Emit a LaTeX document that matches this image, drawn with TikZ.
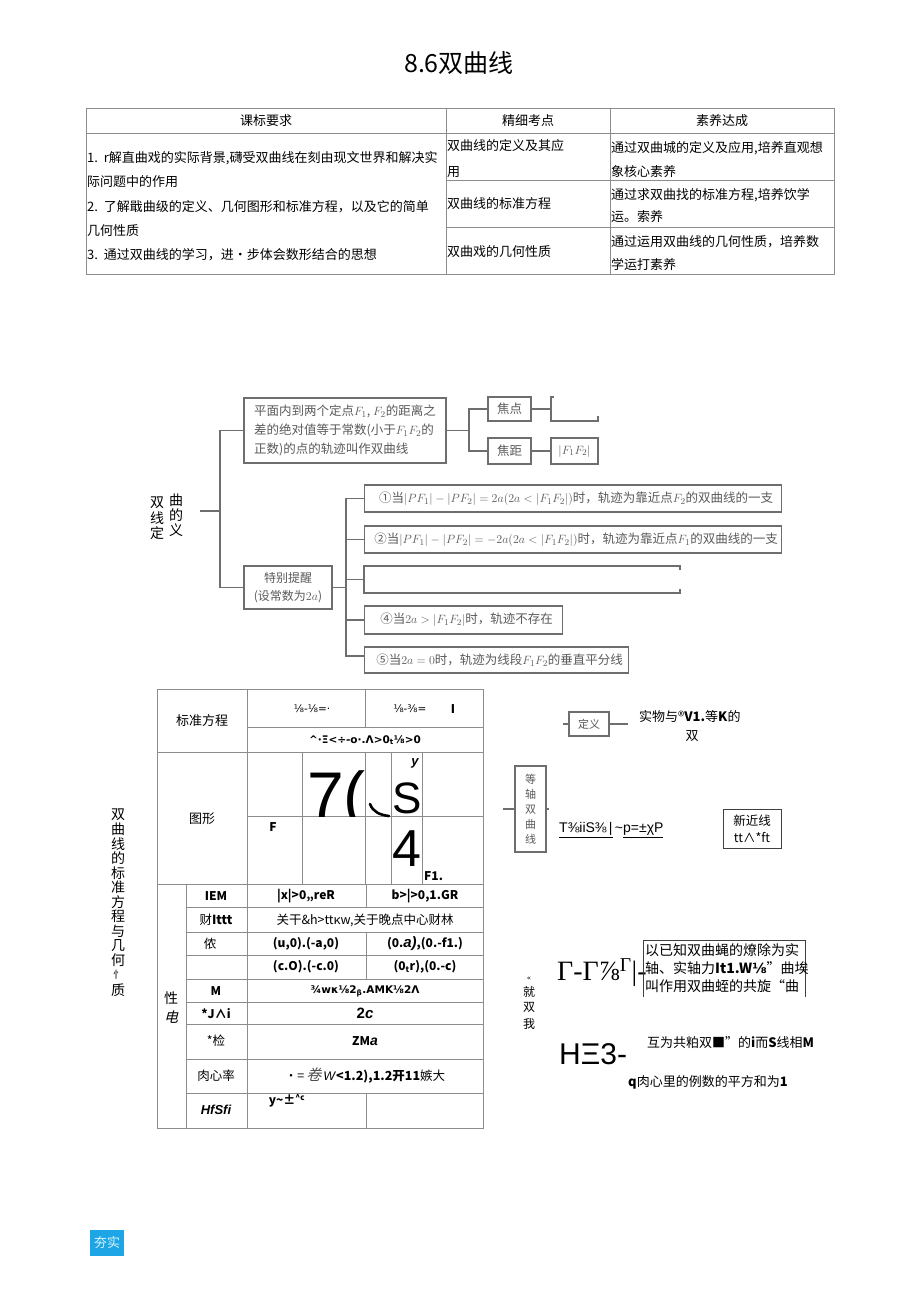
\documentclass[tikz,border=0pt]{standalone}
\usepackage[no-math]{fontspec}
\setmainfont{Noto Sans CJK SC}
\newfontfamily\dv{DejaVu Sans}
\newfontfamily\lsans{Liberation Sans}
\newfontfamily\lserif{Liberation Serif}
\newfontfamily\cjksl[FakeSlant=0.25]{Noto Sans CJK SC}
\newcommand\fs[2]{\fontsize{#1}{#2}\selectfont}
\definecolor{mmgray}{HTML}{6E6E6E}
\definecolor{mmtext}{HTML}{5A5A5A}
\definecolor{tgray}{HTML}{8C8C8C}
\definecolor{hangblue}{HTML}{1EA5E6}
\definecolor{hangtext}{HTML}{D8F4FF}
\begin{document}
\begin{tikzpicture}[x=1pt,y=-1pt,
  tl/.style={draw=tgray,line width=0.8pt},
  tt/.style={inner sep=0pt,font=\fs{13}{15}},
  ttw/.style={tt,anchor=west},
  mline/.style={draw=mmgray,line width=1.2pt},
  mbox/.style={draw=mmgray,line width=1.2pt,text=mmtext,inner sep=0pt,font=\fs{12.5}{19}},
  t2/.style={inner sep=0pt,font=\fs{12.5}{14}},
  t2b/.style={inner sep=0pt,font=\bfseries\fs{12}{14}},
  vch/.style={inner sep=0pt,font=\fs{14}{16}},
  rt/.style={inner sep=0pt,font=\fs{13}{15}},
]
\useasboundingbox (0,0) rectangle (920,1301);
\fill[white] (0,0) rectangle (920,1301);

% ---------- title
\node[inner sep=0pt,font=\fs{25}{28}] (title) at (459,63) {8.6双曲线};

% ---------- table 1
\draw[tl] (86,108) rectangle (834,274);
\draw[tl] (86,133) -- (834,133);
\draw[tl] (446,108) -- (446,274);
\draw[tl] (610,108) -- (610,274);
\draw[tl] (446,180) -- (834,180);
\draw[tl] (446,227) -- (834,227);
\node[tt] (h1) at (266,121) {课标要求};
\node[tt] (h2) at (528,121) {精细考点};
\node[tt] (h3) at (722,121) {素养达成};
\node[ttw] (a1) at (87,158) {1.\ \ r解直曲戏的实际背景,礴受双曲线在刻由现文世界和解决实};
\node[ttw] (a2) at (87,182) {际问题中的作用};
\node[ttw] (a3) at (87,207) {2.\ \ 了解戢曲级的定义、几何图形和标准方程，以及它的简单};
\node[ttw] (a4) at (87,231) {几何性质};
\node[ttw] (a5) at (87,255) {3.\ \ 通过双曲线的学习，进•步体会数形结合的思想};
\node[ttw] (b1) at (447,146) {双曲线的定义及其应};
\node[ttw] (b2) at (447,172) {用};
\node[ttw] (b3) at (447,204) {双曲线的标准方程};
\node[ttw] (b4) at (447,252) {双曲戏的几何性质};
\node[ttw] (c1) at (611,148) {通过双曲城的定义及应用,培养直观想};
\node[ttw] (c2) at (611,172) {象核心素养};
\node[ttw] (c3) at (611,195) {通过求双曲找的标准方程,培养饮学};
\node[ttw] (c4) at (611,217) {运。索养};
\node[ttw] (c5) at (611,242) {通过运用双曲线的几何性质，培养数};
\node[ttw] (c6) at (611,265) {学运打素养};

% ---------- mind map 1
\node[vch] (m1) at (157,503) {双};
\node[vch] (m2) at (176,500) {曲};
\node[vch] (m3) at (157,518) {线};
\node[vch] (m4) at (176,515) {的};
\node[vch] (m5) at (157,533) {定};
\node[vch] (m6) at (176,530) {义};
\coordinate (r0) at (200,511);
\coordinate (j0) at (220,511);
\draw[mline] (r0) -- (j0);

\node[mbox,minimum width=202pt,minimum height=65pt,align=left] (def) at (345,430.5)
  {平面内到两个定点$F_1$, $F_2$的距离之\\差的绝对值等于常数(小于$F_1F_2$的\\正数)的点的轨迹叫作双曲线};
\node[mbox,minimum width=88pt,minimum height=43pt,align=center,font=\fs{12}{18}] (tx) at (288,587.5)
  {特别提醒\\(设常数为$2a$)};
\draw[mline] (def.west) -| (j0) |- (tx.west);

\coordinate (jd) at (469,430.5);
\node[mbox,minimum width=43pt,minimum height=24pt] (jiao) at (509.5,409) {焦点};
\node[mbox,minimum width=43pt,minimum height=26pt] (ju) at (509.5,451) {焦距};
\node[mbox,minimum width=47pt,minimum height=26pt] (ff) at (574.5,451) {$|F_1F_2|$};
\coordinate (pb) at (551,409);
\draw[mline] (def.east) -- (jd);
\draw[mline] (jiao.west) -| (jd) |- (ju.west);
\draw[mline] (jiao.east) -- (pb);
\draw[mline] (ju.east) -- (ff.west);
\draw[mline] (554,397) -- (551,397) -- (551,421) -- (598,421) -- (598,416);

\node[mbox,minimum width=417pt,minimum height=27pt,anchor=west] (k1) at (364,498.5)
  {\hspace{6pt}①当$|PF_1|-|PF_2|=2a(2a<|F_1F_2|)$时，轨迹为靠近点$F_2$的双曲线的一支\hfill};
\node[mbox,minimum width=417pt,minimum height=27pt,anchor=west] (k2) at (364,539.5)
  {\hspace{6pt}②当$|PF_1|-|PF_2|=-2a(2a<|F_1F_2|)$时，轨迹为靠近点$F_1$的双曲线的一支\hfill};
\coordinate (k3) at (364,579.5);
\draw[mline] (680,570) -- (680,566) -- (364,566) -- (364,593) -- (680,593) -- (680,589);
\node[mbox,minimum width=198pt,minimum height=28pt,anchor=west] (k4) at (364,620)
  {\hspace{6pt}④当$2a>|F_1F_2|$时，轨迹不存在\hfill};
\node[mbox,minimum width=264pt,minimum height=26pt,anchor=west] (k5) at (364,660)
  {\hspace{6pt}⑤当$2a=0$时，轨迹为线段$F_1F_2$的垂直平分线\hfill};
\coordinate (k5b) at (364,656);
\coordinate (jt) at (346,587.5);
\draw[mline] (tx.east) -- (jt);
\draw[mline] (k1.west) -| (jt) |- (k5b);
\draw[mline] (k2.west) -- (k2.west -| jt);
\draw[mline] (k3) -- (k3 -| jt);
\draw[mline] (k4.west) -- (k4.west -| jt);

% ---------- table 2
\draw[tl] (157,689) rectangle (483,1128);
\draw[tl] (247,689) -- (247,1128);
\draw[tl] (157,752) -- (483,752);
\draw[tl] (157,884) -- (483,884);
\draw[tl] (247,727) -- (483,727);
\draw[tl] (365,689) -- (365,727);
\draw[tl] (247,816) -- (483,816);
\foreach \xx in {302,365,391,422} \draw[tl] (\xx,752) -- (\xx,884);
\draw[tl] (186,884) -- (186,1128);
\foreach \yy in {907,932,955,979,1002,1024,1059,1093} \draw[tl] (186,\yy) -- (483,\yy);
\draw[tl] (366,884) -- (366,907);
\draw[tl] (366,932) -- (366,979);
\draw[tl] (366,1093) -- (366,1128);

\node[t2,font=\fs{13}{15}] (p1) at (202,721) {标准方程};
\node[t2,font=\dv\fs{10.5}{12}] (p2) at (312,709) {⅛-⅛=·};
\node[t2,font=\dv\fs{10.5}{12}] (p3) at (410,709) {⅛-⅜=};
\node[t2b] (p4) at (453,709) {I};
\node[t2,font=\dv\bfseries\fs{10.5}{12}] (p5) at (365,740) {\textasciicircum·Ξ<÷-o·.Λ>0\textsubscript{t}⅛>0};
\node[t2,font=\fs{13}{15}] (p6) at (202,819) {图形};
\begin{scope}
  \clip (302,752) rectangle (365,816);
  \node[inner sep=0pt,anchor=base west,font=\lsans\fs{66}{66}] (g7) at (307,818) {7(};
\end{scope}
\draw[line width=2.6pt,line cap=round] (370,804) .. controls (373,812) and (380,815) .. (389,816);
\begin{scope}
  \clip (391,752) rectangle (422,816);
  \node[inner sep=0pt,anchor=base west,font=\lsans\fs{44}{44}] (gS) at (392,813) {S};
\end{scope}
\node[inner sep=0pt,font=\lsans\bfseries\itshape\fs{13}{14}] (gy) at (415,763) {y};
\node[t2b] (gF) at (273,827) {F};
\node[inner sep=0pt,anchor=base west,font=\lsans\fs{52}{52}] (g4) at (392,866) {4};
\node[t2b,anchor=west] (gF1) at (424,876) {F1.};

\node[inner sep=0pt,font=\fs{14}{16}] (xing) at (171,998) {性};
\node[inner sep=0pt,font=\cjksl\fs{14}{16}] (dian) at (171,1017) {电};

\node[t2b] (q1) at (216,896) {IEM};
\node[t2b] (q1a) at (306,896) {|x|>0,,reR};
\node[t2b] (q1b) at (425,896) {b>|>0,1.GR};
\node[t2] (q2) at (216,920) {财\textbf{Ittt}};
\node[t2] (q2a) at (365,920) {关干\&h>ttκw,关于晚点中心财林};
\node[t2] (q3) at (210,944) {侬};
\node[t2b] (q3a) at (306,944) {(u,0).(-a,0)};
\node[t2b] (q3b) at (425,944) {(0.{\lsans\itshape\fs{15}{15}a)},(0.-f1.)};
\node[t2b] (q4a) at (306,967) {(c.O).(-c.0)};
\node[t2b] (q4b) at (425,967) {(0\textsubscript{t}r),(0.-c)};
\node[t2b] (q5) at (216,991) {M};
\node[t2b,font=\dv\bfseries\fs{10.5}{12}] (q5a) at (365,991) {¾wκ⅛2\textsubscript{β}.AMK⅛2Λ};
\node[t2b] (q6) at (216,1014) {*J∧i};
\node[inner sep=0pt,font=\lsans\bfseries\fs{15}{16}] (q6a) at (365,1013) {2\textit{c}};
\node[t2] (q7) at (216,1041) {*检};
\node[t2b] (q7a) at (365,1041) {ZM{\lsans\itshape\fs{14}{14}a}};
\node[t2] (q8) at (216,1076) {肉心率};
\node[t2] (q8a) at (365,1076) {·=\,{\cjksl\fs{15}{15}\color{black!70}卷}\kern2pt{\lsans\itshape W}\textbf{<1.2),1.2开11}嫉大};
\node[inner sep=0pt,font=\lsans\bfseries\itshape\fs{13}{14}] (q9) at (216,1110) {HfSfi};
\node[t2b] (q9a) at (287,1101) {y\textasciitilde±\textsuperscript{\textasciicircum c}};

\foreach \c [count=\i from 0] in {双,曲,线,的,标,准,方,程,与,几,何}
  \node[vch] (vl\i) at (118,815+14.5*\i) {\c};
\node[inner sep=0pt,font=\fs{10}{12}] (vl11) at (118,975) {忄};
\node[vch] (vl12) at (118,990) {质};

% ---------- mind map 2 (right)
\coordinate (d0) at (563,724);
\coordinate (d1) at (628,724);
\node[mbox,minimum width=40pt,minimum height=24pt,font=\fs{11}{13}] (dy) at (589,724) {定义};
\draw[mline] (d0) -- (dy.west);
\draw[mline] (dy.east) -- (d1);
\node[rt,anchor=west] (dyt1) at (639,717) {实物与®\textbf{V1.}等\textbf{K}的};
\node[rt] (dyt2) at (692,736) {双};

\coordinate (e0) at (503,809);
\coordinate (e1) at (549,809);
\node[mbox,minimum width=31pt,minimum height=86pt,align=center,font=\fs{11}{15}] (dz) at (530.5,809) {等\\轴\\双\\曲\\线};
\draw[mline] (e0) -- (dz.west);
\draw[mline] (dz.east) -- (e1);
\node[inner sep=0pt,anchor=west,font=\lsans\fs{14}{16}] (eq) at (559,830)
  {\underline{T⅜iiS⅜\,|}\,\textasciitilde\underline{p=±χP}};
\node[draw=black!75,line width=0.8pt,inner sep=0pt,minimum width=58pt,minimum height=39pt,align=center,font=\fs{12.5}{17}] (jx) at (752,828.5) {新近线\\tt∧*ft};

\node[inner sep=0pt,font=\dv\fs{7}{8}] (w1) at (529,979) {«};
\node[inner sep=0pt,font=\fs{12}{13}] (w2) at (529,992) {就};
\node[inner sep=0pt,font=\fs{12}{13}] (w3) at (529,1007) {双};
\node[inner sep=0pt,font=\fs{12}{13}] (w4) at (529,1024) {我};

\node[inner sep=0pt,anchor=west,font=\lserif\fs{28}{30}] (gam) at (557,973) {Γ-Γ⅞\textsuperscript{Γ}|-};
\draw[draw=black!75,line width=0.8pt] (643,997) -- (643,940) -- (805,940) -- (805,997);
\node[inner sep=0pt,anchor=north west,align=left,font=\fs{14}{18}] (yz) at (645,943)
  {以已知双曲蝇的燎除为实\\轴、实轴力\textbf{It1.W}{\dv\bfseries ⅛}”曲埃\\叫作用双曲蛭的共旋“曲};
\node[inner sep=0pt,anchor=west,font=\lsans\fs{30}{32}] (hx) at (559,1054) {HΞ3-};
\node[rt,anchor=west] (hx1) at (647,1043) {互为共粕双\textbf{■}”的\textbf{i}而\textbf{S}线相\textbf{M}};
\node[rt,anchor=west] (hx2) at (628,1082) {\textbf{q}肉心里的例数的平方和为\textbf{1}};

% ---------- bottom badge
\node[fill=hangblue,text=hangtext,inner sep=0pt,minimum width=34pt,minimum height=26pt,font=\fs{13}{15}] (badge) at (107,1242.5) {夯实};
\end{tikzpicture}
\end{document}
